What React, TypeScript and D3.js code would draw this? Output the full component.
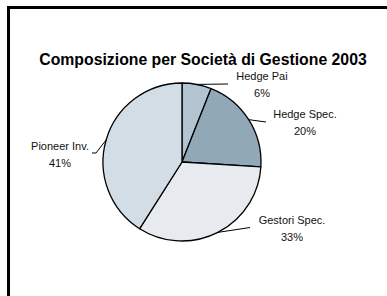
import React from "react"
import * as d3 from "d3"

const categories = ["Hedge Pai", "Hedge Spec.", "Gestori Spec.", "Pioneer Inv."]
const shares = [6, 20, 33, 41]
const colors = ["#b1c4d0", "#91a8b7", "#e7ebf0", "#d2dde6"]

const title = "Composizione per Società di Gestione 2003"

const width = 387
const height = 296

// label placement (text centre x, first baseline y, leader end)
const labelLayout = [
  { x: 262, y: 80, end: [[228, 84]] },
  { x: 305, y: 118, end: [[266, 122]] },
  { x: 292, y: 224, end: [[250, 227.5]] },
  { x: 60, y: 150, end: [[96, 153], [92, 153]] },
]

const App = () => {
  const cx = 182
  const cy = 162
  const r = 79

  const pie = d3
    .pie<number>()
    .sort(null)
    .value((d) => d)
  const arcs = pie(shares)
  const arc = d3.arc<d3.PieArcDatum<number>>().innerRadius(0).outerRadius(r)
  const total = d3.sum(shares)

  return (
    <svg
      width={width}
      height={height}
      style={{ position: "absolute", left: 0, top: 0, background: "#fff" }}
      fontFamily="'Liberation Sans', Arial, sans-serif"
    >
      <line x1={7} x2={width} y1={7.5} y2={7.5} stroke="#000" strokeWidth={3} />
      <line x1={8.5} x2={8.5} y1={6} y2={height} stroke="#000" strokeWidth={3} />

      <text
        x={203}
        y={65}
        textAnchor="middle"
        fontWeight="bold"
        fontSize={15.8}
        fill="#000"
      >
        {title}
      </text>

      <g transform={`translate(${cx},${cy})`}>
        {arcs.map((a, i) => (
          <path
            key={categories[i]}
            d={arc(a) || ""}
            fill={colors[i]}
            stroke="#000"
            strokeWidth={1.3}
            strokeLinejoin="round"
          />
        ))}
      </g>

      {arcs.map((a, i) => {
        const mid = (a.startAngle + a.endAngle) / 2
        const p: [number, number] = [cx + r * Math.sin(mid), cy - r * Math.cos(mid)]
        const lay = labelLayout[i]
        const pts = [p, ...lay.end] as [number, number][]
        return (
          <g key={"lab" + i}>
            <path d={d3.line()(pts) || ""} fill="none" stroke="#000" strokeWidth={1} />
            <text x={lay.x} y={lay.y} textAnchor="middle" fontSize={11} fill="#111">
              {categories[i]}
            </text>
            <text x={lay.x} y={lay.y + 17} textAnchor="middle" fontSize={11} fill="#111">
              {d3.format(".0%")(shares[i] / total)}
            </text>
          </g>
        )
      })}
    </svg>
  )
}

export default App
